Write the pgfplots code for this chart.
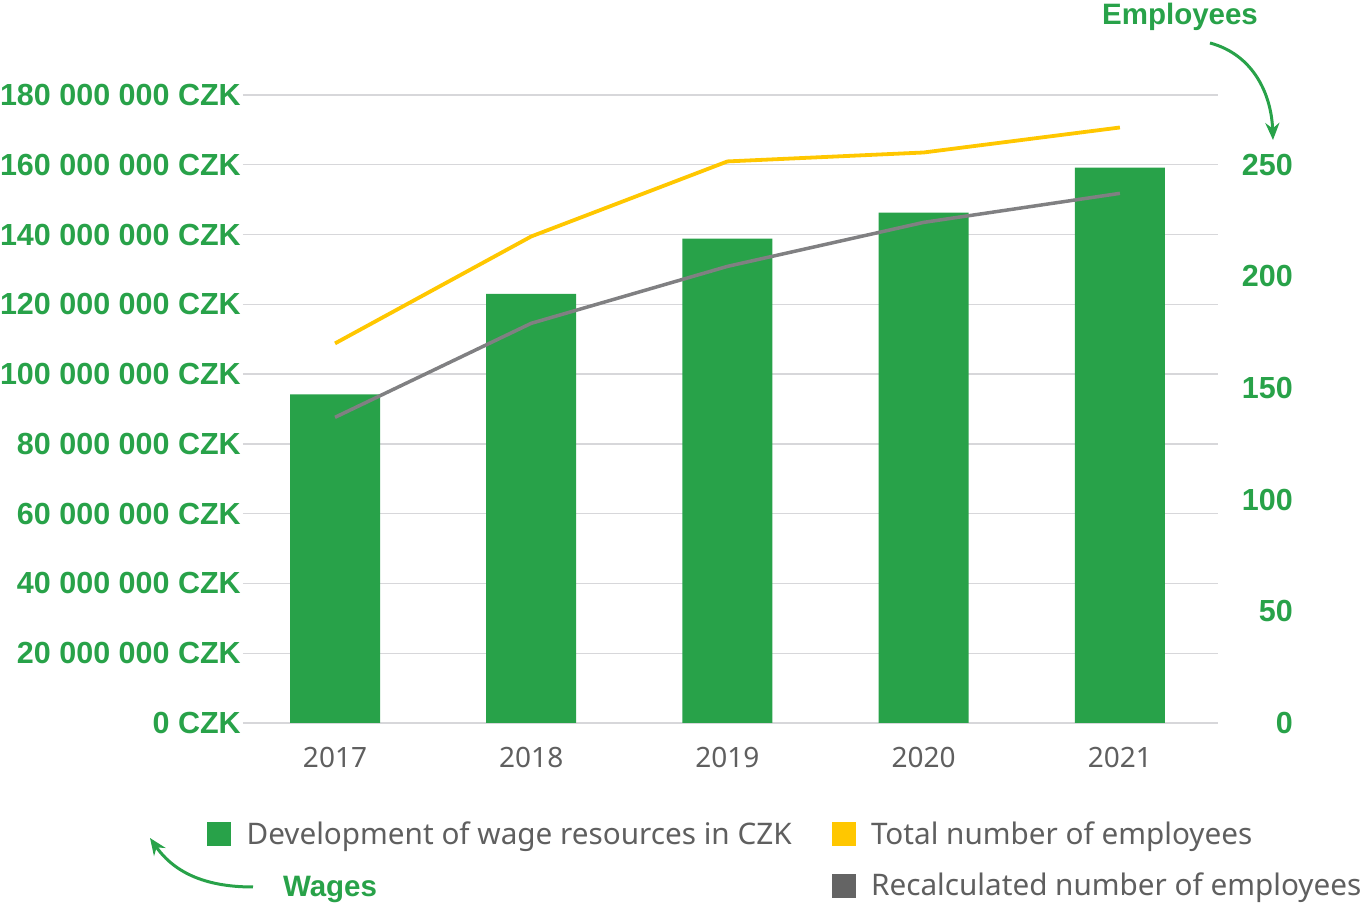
\documentclass[border=0pt]{standalone}
\usepackage{fontspec}
\setmainfont{Noto Sans}
\newfontfamily\boldfont{Liberation Sans}
\usepackage{pgfplots}
\pgfplotsset{compat=1.18}
\usetikzlibrary{arrows.meta}
\definecolor{mygreen}{RGB}{40,162,73}
\definecolor{myyellow}{RGB}{255,199,0}
\definecolor{lgray}{RGB}{128,128,130}
\definecolor{sqgray}{RGB}{100,100,100}
\definecolor{txtgray}{RGB}{95,95,95}
\definecolor{gridgray}{RGB}{215,215,218}

\pgfplotstableread{
x wages
0 94.2
1 123.0
2 138.8
3 146.3
4 159.2
}\wagetable
\pgfplotstableread{
x total recalc
0 170.0 136.9
1 217.9 179.0
2 251.5 204.5
3 255.5 224.2
4 266.7 237.2
}\emptable

\pgfplotsset{
  sqr/.style={legend image code/.code={\fill[#1] (0pt,-11.5pt) rectangle (23pt,11.5pt);}},
  common/.style={
    scale only axis, width=975pt, height=628pt,
    xmin=-0.469, xmax=4.5,
    major tick length=0pt,
    axis line style={draw=none},
  }
}

\begin{document}
\begin{tikzpicture}
\begin{axis}[common,
  ymin=0, ymax=180,
  ytick={0,20,40,60,80,100,120,140,160,180},
  yticklabels={0 CZK,20 000 000 CZK,40 000 000 CZK,60 000 000 CZK,80 000 000 CZK,100 000 000 CZK,120 000 000 CZK,140 000 000 CZK,160 000 000 CZK,180 000 000 CZK},
  yticklabel style={anchor=east, inner sep=0pt, xshift=-2pt, text=mygreen, font=\boldfont\bfseries\fontsize{30.5}{36}\selectfont},
  xtick={0,1,2,3,4},
  xticklabels={2017,2018,2019,2020,2021},
  xticklabel style={anchor=center, inner sep=0pt, yshift=-34pt, text=txtgray, font=\fontsize{28}{34}\selectfont},
  ymajorgrids, grid style={gridgray, line width=1.3pt},
]
\addplot[ybar, bar width=90pt, fill=mygreen, draw=none] table[x=x, y=wages] {\wagetable};
\end{axis}
\begin{axis}[common,
  ymin=0, ymax=281.25,
  axis x line=none,
  axis y line*=right,
  ytick={0,50,100,150,200,250},
  yticklabels={0,50,100,150,200,250},
  yticklabel style={anchor=east, inner sep=0pt, xshift=75pt, text=mygreen, font=\boldfont\bfseries\fontsize{30.5}{36}\selectfont},
  legend columns=2,
  legend cell align=left,
  legend style={at={(-0.0369,-0.154)}, anchor=north west, draw=none, fill=none, inner sep=0pt,
    text=txtgray, font=\fontsize{29.7}{36}\selectfont,
    row sep=23pt,
    /tikz/every odd column/.append style={column sep=14pt},
    /tikz/every even column/.append style={column sep=38pt}},
]
\addplot[myyellow, line width=3.8pt, forget plot] table[x=x, y=total] {\emptable};
\addplot[lgray, line width=3.5pt, forget plot] table[x=x, y=recalc] {\emptable};
\addlegendimage{sqr=mygreen}
\addlegendentry{Development of wage resources in CZK}
\addlegendimage{sqr=myyellow}
\addlegendentry{Total number of employees}
\addlegendimage{empty legend}
\addlegendentry{}
\addlegendimage{sqr=sqgray}
\addlegendentry{Recalculated number of employees}
\end{axis}
\node[text=mygreen, font=\boldfont\bfseries\fontsize{29.5}{34}\selectfont] at (937pt,706pt) {Employees};
\node[text=mygreen, font=\boldfont\bfseries\fontsize{29.5}{34}\selectfont] at (87pt,-166pt) {Wages};
\draw[mygreen, line width=3pt, -{Stealth[length=17pt, width=14pt]}] (967pt,680pt) to[out=-15, in=92] (1030pt,583pt);
\draw[mygreen, line width=3pt, -{Stealth[length=17pt, width=14pt]}] (10pt,-164pt) to[out=180, in=-55] (-93pt,-115pt);
\pgfresetboundingbox
\useasboundingbox (-243pt,-187pt) rectangle (1123pt,723pt);
\end{tikzpicture}
\end{document}
